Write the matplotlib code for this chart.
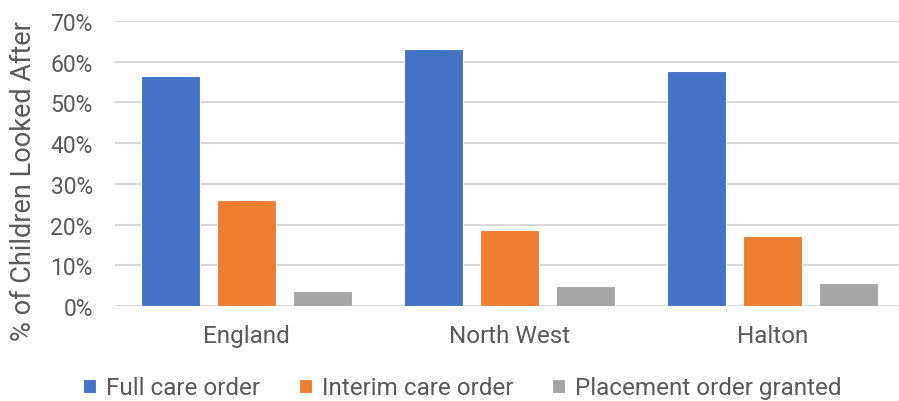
import matplotlib
matplotlib.use("Agg")
import matplotlib.pyplot as plt
import numpy as np
from matplotlib.ticker import PercentFormatter

regions = ["England", "North West", "Halton"]
series_names = ["Full care order", "Interim care order", "Placement order granted"]
full_care = [0.565, 0.631, 0.576]
interim_care = [0.260, 0.186, 0.173]
placement = [0.037, 0.050, 0.057]
y_ticks = [0.0, 0.1, 0.2, 0.3, 0.4, 0.5, 0.6, 0.7]

colors = ["#4472C4", "#ED7D31", "#A5A5A5"]
text_color = "#595959"
grid_color = "#D9D9D9"

plt.rcParams["font.family"] = ["Roboto", "DejaVu Sans"]

fig = plt.figure(figsize=(8.99, 4.02), dpi=100)
ax = fig.add_axes([115 / 899, 1 - 307 / 402, 784 / 899, 285 / 402])

x = np.arange(len(regions))
bar_w = 0.2255
step = 0.289
for i, (vals, name) in enumerate(zip([full_care, interim_care, placement], series_names)):
    ax.bar(x + (i - 1) * step, vals, width=bar_w, color=colors[i], label=name,
           edgecolor="white", linewidth=0.8, zorder=3)

ax.set_xlim(-0.5, 2.481)
ax.set_ylim(0, 0.7)
ax.set_yticks(y_ticks)
ax.yaxis.set_major_formatter(PercentFormatter(1.0, decimals=0))
ax.set_xticks(x)
ax.set_xticklabels(regions)

ax.grid(axis="y", color=grid_color, linewidth=1.5, zorder=0)
ax.set_axisbelow(True)
for s in ax.spines.values():
    s.set_visible(False)
ax.tick_params(axis="y", length=0, labelsize=16.5, colors=text_color, pad=16)
ax.tick_params(axis="x", length=0, labelsize=17.5, colors=text_color, pad=13)

fig.text(24 / 899, 1 - 181 / 402, "% of Children Looked After", rotation=90,
         ha="center", va="center", fontsize=19.5, color=text_color)

fig.legend(loc="center", bbox_to_anchor=(462 / 899, 1 - 389 / 402), ncol=3,
           frameon=False, fontsize=17.5, labelcolor=text_color,
           handlelength=0.55, handleheight=0.55, handletextpad=0.4,
           columnspacing=1.6, borderaxespad=0)

fig.savefig("out.png", dpi=100)
